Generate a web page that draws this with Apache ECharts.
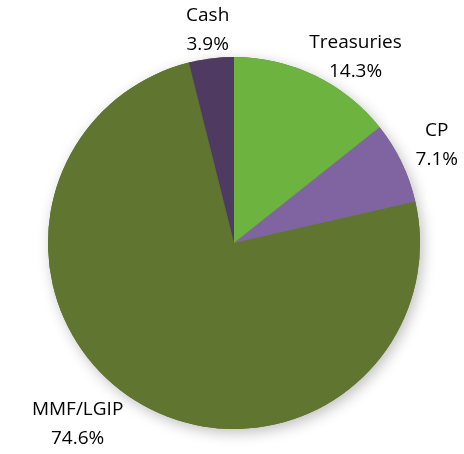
<!DOCTYPE html>
<html>
<head>
<meta charset="utf-8">
<script src="https://cdn.jsdelivr.net/npm/echarts@6/dist/echarts.min.js"></script>
<style>
    html, body { margin: 0; padding: 0; background: #fff; }
    #main { width: 464px; height: 454px; }
</style>
</head>
<body>
<div id="main"></div>
<script>
    // data
    var names = ['Treasuries', 'CP', 'MMF/LGIP', 'Cash'];
    var shares = [14.3, 7.1, 74.6, 3.9];
    var colors = ['#6db33f', '#8064a2', '#5f7530', '#4f3b62'];

    // label line lengths (hidden), used only to push labels outward
    var lineLen = [20, 39, 27, 29];
    var lineLen2 = [32, 0, 45, 0];

    var myChart = echarts.init(document.getElementById('main'));

    var pieData = [];
    var baseData = [];
    for (var i = 0; i < names.length; i++) {
        pieData.push({
            name: names[i],
            value: shares[i],
            itemStyle: { color: colors[i] },
            labelLine: { show: false, length: lineLen[i], length2: lineLen2[i] }
        });
        baseData.push({ name: names[i], value: shares[i] });
    }

    var option = {
        animation: false,
        series: [
            {
                // shadow under the pie
                type: 'pie',
                silent: true,
                center: [234, 243],
                radius: 186,
                startAngle: 90,
                clockwise: true,
                z: 1,
                label: { show: false },
                labelLine: { show: false },
                itemStyle: {
                    color: '#5f7530',
                    shadowBlur: 14,
                    shadowOffsetX: 3,
                    shadowOffsetY: 4,
                    shadowColor: 'rgba(0,0,0,0.25)'
                },
                data: baseData
            },
            {
                type: 'pie',
                center: [234, 243],
                radius: 186,
                startAngle: 90,
                clockwise: true,
                z: 2,
                avoidLabelOverlap: false,
                itemStyle: { borderWidth: 0 },
                label: {
                    show: true,
                    position: 'outside',
                    distanceToLabelLine: 0,
                    formatter: function (p) {
                        return p.name + '\n' + p.value.toFixed(1) + '%';
                    },
                    fontFamily: 'Open Sans',
                    fontSize: 19,
                    lineHeight: 29,
                    color: '#000'
                },
                labelLayout: function () {
                    return { align: 'center', verticalAlign: 'middle' };
                },
                data: pieData
            }
        ]
    };

    myChart.setOption(option);
</script>
</body>
</html>
